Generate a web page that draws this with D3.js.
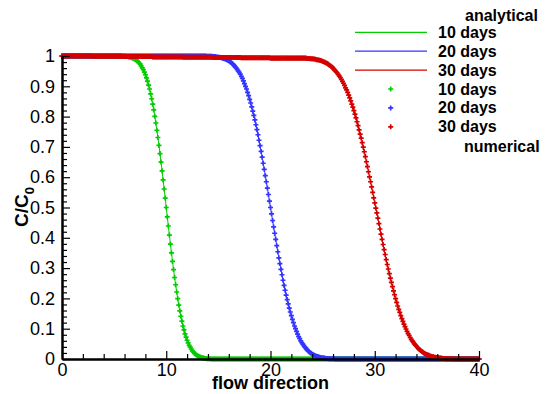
<!DOCTYPE html>
<html>
<head>
<meta charset="utf-8">
<script src="https://cdn.jsdelivr.net/npm/d3@7"></script>
<style>
  body { margin: 0; background: #fff; }
  text { font-family: Arial, "Liberation Sans", sans-serif; fill: #000; }
</style>
</head>
<body>
<div id="chart"></div>
<script>
// Sample positions along the flow direction (0 to 40, every 0.1)
var xGrid = d3.range(0, 401).map(function(i) { return i / 10; });

// C/C0 after 10 days (one value per xGrid point)
var c10 = [
  1,1,1,1,1,1,1,1,1,1,
  1,1,1,1,1,1,1,1,1,1,
  1,1,1,1,1,1,1,1,1,1,
  1,1,1,1,1,1,1,1,1,1,
  1,1,1,1,1,1,1,1,1,1,
  1,1,1,1,1,1,1,1,0.999,0.999,
  0.999,0.999,0.998,0.998,0.997,0.996,0.996,0.994,0.993,0.991,
  0.989,0.987,0.984,0.981,0.977,0.973,0.967,0.961,0.955,0.947,
  0.938,0.928,0.917,0.904,0.891,0.875,0.859,0.841,0.822,0.801,
  0.779,0.755,0.731,0.705,0.678,0.650,0.621,0.591,0.561,0.531,
  0.500,0.469,0.439,0.409,0.379,0.350,0.322,0.295,0.269,0.245,
  0.221,0.199,0.178,0.159,0.141,0.125,0.109,0.096,0.083,0.072,
  0.062,0.053,0.045,0.039,0.033,0.027,0.023,0.019,0.016,0.013,
  0.011,0.009,0.007,0.006,0.004,0.004,0.003,0.002,0.002,0.001,
  0.001,0.001,0.001,0,0,0,0,0,0,0,
  0,0,0,0,0,0,0,0,0,0,
  0,0,0,0,0,0,0,0,0,0,
  0,0,0,0,0,0,0,0,0,0,
  0,0,0,0,0,0,0,0,0,0,
  0,0,0,0,0,0,0,0,0,0,
  0,0,0,0,0,0,0,0,0,0,
  0,0,0,0,0,0,0,0,0,0,
  0,0,0,0,0,0,0,0,0,0,
  0,0,0,0,0,0,0,0,0,0,
  0,0,0,0,0,0,0,0,0,0,
  0,0,0,0,0,0,0,0,0,0,
  0,0,0,0,0,0,0,0,0,0,
  0,0,0,0,0,0,0,0,0,0,
  0,0,0,0,0,0,0,0,0,0,
  0,0,0,0,0,0,0,0,0,0,
  0,0,0,0,0,0,0,0,0,0,
  0,0,0,0,0,0,0,0,0,0,
  0,0,0,0,0,0,0,0,0,0,
  0,0,0,0,0,0,0,0,0,0,
  0,0,0,0,0,0,0,0,0,0,
  0,0,0,0,0,0,0,0,0,0,
  0,0,0,0,0,0,0,0,0,0,
  0,0,0,0,0,0,0,0,0,0,
  0,0,0,0,0,0,0,0,0,0,
  0,0,0,0,0,0,0,0,0,0,
  0
];

// C/C0 after 20 days
var c20 = [
  1,1,1,1,1,1,1,1,1,1,
  1,1,1,1,1,1,1,1,1,1,
  1,1,1,1,1,1,1,1,1,1,
  1,1,1,1,1,1,1,1,1,1,
  1,1,1,1,1,1,1,1,1,1,
  1,1,1,1,1,1,1,1,1,1,
  1,1,1,1,1,1,1,1,1,1,
  1,1,1,1,1,1,1,1,1,1,
  1,1,1,1,1,1,1,1,1,1,
  1,1,1,1,1,1,1,1,1,1,
  1,1,1,1,1,1,1,1,1,1,
  1,1,1,1,1,1,1,1,1,1,
  1,1,1,1,1,1,1,1,1,1,
  1,1,1,1,1,1,1,1,1,0.999,
  0.999,0.999,0.999,0.999,0.999,0.998,0.998,0.998,0.997,0.997,
  0.996,0.996,0.995,0.994,0.993,0.992,0.991,0.989,0.988,0.986,
  0.984,0.981,0.979,0.976,0.973,0.969,0.965,0.961,0.956,0.951,
  0.946,0.940,0.933,0.926,0.918,0.909,0.900,0.891,0.880,0.869,
  0.857,0.845,0.832,0.818,0.804,0.789,0.773,0.757,0.740,0.722,
  0.704,0.685,0.666,0.646,0.626,0.605,0.585,0.564,0.543,0.521,
  0.500,0.479,0.457,0.436,0.415,0.395,0.374,0.354,0.334,0.315,
  0.296,0.278,0.260,0.243,0.227,0.211,0.196,0.182,0.168,0.155,
  0.143,0.131,0.120,0.109,0.100,0.091,0.082,0.074,0.067,0.060,
  0.054,0.049,0.044,0.039,0.035,0.031,0.027,0.024,0.021,0.019,
  0.016,0.014,0.012,0.011,0.009,0.008,0.007,0.006,0.005,0.004,
  0.004,0.003,0.003,0.002,0.002,0.002,0.001,0.001,0.001,0.001,
  0.001,0.001,0,0,0,0,0,0,0,0,
  0,0,0,0,0,0,0,0,0,0,
  0,0,0,0,0,0,0,0,0,0,
  0,0,0,0,0,0,0,0,0,0,
  0,0,0,0,0,0,0,0,0,0,
  0,0,0,0,0,0,0,0,0,0,
  0,0,0,0,0,0,0,0,0,0,
  0,0,0,0,0,0,0,0,0,0,
  0,0,0,0,0,0,0,0,0,0,
  0,0,0,0,0,0,0,0,0,0,
  0,0,0,0,0,0,0,0,0,0,
  0,0,0,0,0,0,0,0,0,0,
  0,0,0,0,0,0,0,0,0,0,
  0,0,0,0,0,0,0,0,0,0,
  0
];

// C/C0 after 30 days
var c30 = [
  1,1,1,1,1,1,1,1,1,1,
  1,1,1,1,1,1,1,1,1,1,
  1,1,1,1,1,1,1,1,1,0.999,
  0.999,0.999,0.999,0.999,0.999,0.999,0.999,0.999,0.999,0.999,
  0.999,0.999,0.999,0.999,0.999,0.999,0.999,0.999,0.999,0.999,
  0.999,0.999,0.999,0.999,0.999,0.999,0.999,0.999,0.998,0.998,
  0.998,0.998,0.998,0.998,0.998,0.998,0.998,0.998,0.998,0.998,
  0.998,0.998,0.998,0.998,0.998,0.998,0.998,0.998,0.998,0.998,
  0.998,0.998,0.998,0.998,0.998,0.998,0.998,0.997,0.997,0.997,
  0.997,0.997,0.997,0.997,0.997,0.997,0.997,0.997,0.997,0.997,
  0.997,0.997,0.997,0.997,0.997,0.997,0.997,0.997,0.997,0.997,
  0.997,0.997,0.997,0.997,0.997,0.997,0.996,0.996,0.996,0.996,
  0.996,0.996,0.996,0.996,0.996,0.996,0.996,0.996,0.996,0.996,
  0.996,0.996,0.996,0.996,0.996,0.996,0.996,0.996,0.996,0.996,
  0.996,0.996,0.996,0.996,0.995,0.995,0.995,0.995,0.995,0.995,
  0.995,0.995,0.995,0.995,0.995,0.995,0.995,0.995,0.995,0.995,
  0.995,0.995,0.995,0.995,0.995,0.995,0.995,0.995,0.995,0.995,
  0.995,0.995,0.994,0.994,0.994,0.994,0.994,0.994,0.994,0.994,
  0.994,0.994,0.994,0.994,0.994,0.994,0.994,0.994,0.994,0.994,
  0.994,0.994,0.994,0.994,0.994,0.994,0.994,0.994,0.994,0.994,
  0.993,0.993,0.993,0.993,0.993,0.993,0.993,0.993,0.993,0.993,
  0.993,0.993,0.993,0.993,0.993,0.993,0.993,0.993,0.993,0.993,
  0.993,0.993,0.993,0.993,0.993,0.993,0.993,0.993,0.993,0.993,
  0.993,0.993,0.993,0.993,0.993,0.992,0.992,0.992,0.991,0.991,
  0.991,0.990,0.990,0.989,0.988,0.988,0.987,0.986,0.985,0.984,
  0.982,0.981,0.979,0.978,0.976,0.974,0.971,0.969,0.966,0.963,
  0.960,0.956,0.952,0.948,0.944,0.939,0.934,0.929,0.923,0.916,
  0.910,0.903,0.895,0.888,0.880,0.871,0.862,0.852,0.841,0.831,
  0.820,0.808,0.796,0.783,0.770,0.756,0.742,0.729,0.714,0.699,
  0.684,0.668,0.651,0.635,0.618,0.601,0.585,0.568,0.550,0.532,
  0.515,0.498,0.482,0.465,0.447,0.429,0.412,0.395,0.378,0.361,
  0.345,0.328,0.312,0.297,0.282,0.267,0.253,0.239,0.225,0.212,
  0.199,0.187,0.175,0.164,0.154,0.143,0.133,0.124,0.115,0.107,
  0.099,0.091,0.084,0.078,0.071,0.065,0.060,0.055,0.050,0.046,
  0.042,0.038,0.034,0.031,0.028,0.025,0.023,0.020,0.018,0.016,
  0.015,0.013,0.012,0.010,0.009,0.008,0.007,0.006,0.006,0.005,
  0.004,0.004,0.003,0.003,0.003,0.002,0.002,0.002,0.001,0.001,
  0.001,0.001,0.001,0.001,0.001,0,0,0,0,0,
  0,0,0,0,0,0,0,0,0,0,
  0,0,0,0,0,0,0,0,0,0,
  0
];

var seriesLabels = ["10 days", "20 days", "30 days"];
var seriesValues = [c10, c20, c30];

var xTicks = [0, 10, 20, 30, 40];
var yTicks = [0, 0.1, 0.2, 0.3, 0.4, 0.5, 0.6, 0.7, 0.8, 0.9, 1];

// Chart area
var width = 547, height = 394;
var plot = {left: 62, right: 479, top: 56, bottom: 359};

var svg = d3.select("#chart")
  .append("svg")
    .attr("width", width)
    .attr("height", height);

svg.append("rect")
  .attr("width", width)
  .attr("height", height)
  .attr("fill", "#fff");

var xScale = d3.scaleLinear().domain([0, 40]).range([plot.left, plot.right]);
var yScale = d3.scaleLinear().domain([0, 1]).range([plot.bottom, plot.top]);

var color = d3.scaleOrdinal()
  .domain(seriesLabels)
  .range(["#00cc00", "#3434ff", "#d40000"]);

var marker = d3.symbol().type(d3.symbolCross).size(14);

var line = d3.line()
  .x(function(d, i) { return xScale(xGrid[i]); })
  .y(function(d) { return yScale(d); });

// Analytical line + numerical points, one series at a time
seriesLabels.forEach(function(label, s) {
  var values = seriesValues[s];

  svg.append("path")
    .datum(values)
    .attr("fill", "none")
    .attr("stroke", color(label))
    .attr("stroke-width", 1)
    .attr("d", line);

  svg.append("g")
    .selectAll("path")
    .data(values)
    .enter()
    .append("path")
      .attr("d", marker)
      .attr("fill", color(label))
      .attr("transform", function(d, i) {
        return `translate(${xScale(xGrid[i])},${yScale(d)})`;
      });
});

// Axes, ticks pointing inward
var xMinor = d3.range(0, 41, 2).filter(function(v) { return v % 10 !== 0; });
var yMinor = d3.range(0, 51).map(function(i) { return i / 50; })
  .filter(function(v, i) { return i % 5 !== 0; });

var xAxisG = svg.append("g")
  .attr("transform", `translate(0, ${plot.bottom})`);

xAxisG.append("g")
  .call(d3.axisBottom(xScale).tickValues(xMinor).tickFormat("").tickSize(-5).tickSizeOuter(0));

xAxisG.append("g")
  .call(d3.axisBottom(xScale).tickValues(xTicks).tickSize(-8).tickSizeOuter(0).tickPadding(4));

var yAxisG = svg.append("g")
  .attr("transform", `translate(${plot.left}, 0)`);

yAxisG.append("g")
  .call(d3.axisLeft(yScale).tickValues(yMinor).tickFormat("").tickSize(-5).tickSizeOuter(0));

yAxisG.append("g")
  .call(d3.axisLeft(yScale).tickValues(yTicks)
    .tickFormat(function(d) { return String(+d.toFixed(1)); })
    .tickSize(-8).tickSizeOuter(0).tickPadding(7));

svg.selectAll(".domain")
  .attr("stroke", "#000")
  .attr("stroke-width", 2);

svg.selectAll(".tick line")
  .attr("stroke", "#000")
  .attr("stroke-width", 1.2);

svg.selectAll(".tick text")
  .attr("font-size", 18)
  .attr("font-family", "Arial, 'Liberation Sans', sans-serif")
  .attr("fill", "#000");

// Axis titles
svg.append("text")
  .attr("x", (plot.left + plot.right) / 2)
  .attr("y", 389)
  .attr("text-anchor", "middle")
  .attr("font-size", 18)
  .attr("font-weight", "bold")
  .text("flow direction");

var yTitle = svg.append("text")
  .attr("transform", "translate(28, 207) rotate(-90)")
  .attr("text-anchor", "middle")
  .attr("font-size", 19)
  .attr("font-weight", "bold")
  .text("C/C");

yTitle.append("tspan")
  .attr("dy", 6)
  .attr("font-size", 13)
  .text("0");

// Legend
var legend = svg.append("g")
  .attr("font-size", 16)
  .attr("font-weight", "bold");

legend.append("text")
  .attr("x", 465)
  .attr("y", 20.5)
  .text("analytical");

seriesLabels.forEach(function(label, s) {
  var yLine = 32.3 + s * 18.9;
  var yDot = 89 + s * 18.9;

  legend.append("line")
    .attr("x1", 355)
    .attr("x2", 427)
    .attr("y1", yLine)
    .attr("y2", yLine)
    .attr("stroke", color(label))
    .attr("stroke-width", 1.3);

  legend.append("text")
    .attr("x", 438)
    .attr("y", yLine + 5.5)
    .text(label);

  legend.append("path")
    .attr("d", marker)
    .attr("fill", color(label))
    .attr("transform", `translate(390.7, ${yDot})`);

  legend.append("text")
    .attr("x", 438)
    .attr("y", yDot + 5.5)
    .text(label);
});

legend.append("text")
  .attr("x", 464)
  .attr("y", 152)
  .text("numerical");
</script>
</body>
</html>
